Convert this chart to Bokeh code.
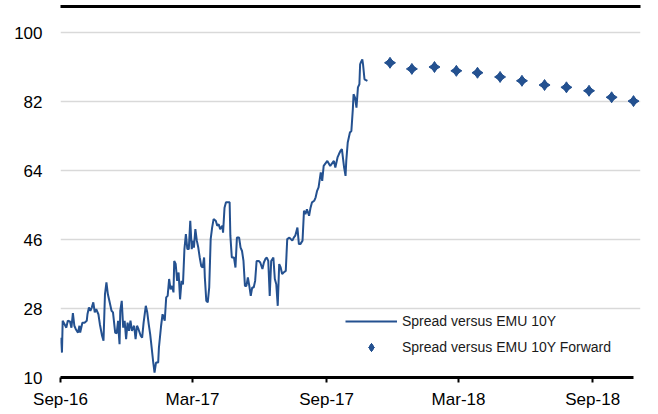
import pandas as pd
from bokeh.plotting import figure
from bokeh.models import (ColumnDataSource, Range1d, FixedTicker, DatetimeTickFormatter,
                          Legend, LegendItem, LinearAxis)
from bokeh.embed import file_html
from bokeh.resources import INLINE

# ---------------- data ----------------
base_date = "2016-09-01"
# observed spread: days after base_date and value
spot_day = [0, 2, 3, 5, 8, 10, 13, 15, 17, 19, 21, 24, 26, 27, 30, 33, 36, 37, 39, 41,
            43, 45, 47, 49, 52, 54, 57, 59, 61, 63, 65, 67, 70, 72, 75, 77, 79, 80, 81, 82,
            84, 86, 88, 90, 92, 94, 96, 98, 101, 103, 105, 107, 110, 112, 114, 117, 119, 121, 123, 124,
            127, 129, 131, 134, 135, 138, 140, 143, 145, 147, 149, 151, 153, 155, 156, 158, 160, 162, 164, 166,
            168, 170, 172, 174, 176, 178, 180, 182, 183, 185, 187, 189, 191, 193, 195, 197, 198, 200, 202, 204,
            206, 208, 210, 213, 215, 217, 219, 222, 223, 225, 227, 230, 232, 233, 235, 238, 240, 242, 245, 247,
            249, 251, 253, 255, 257, 259, 261, 263, 265, 267, 269, 272, 274, 277, 279, 281, 283, 285, 287, 289,
            292, 294, 296, 298, 300, 302, 304, 306, 309, 311, 314, 316, 318, 320, 322, 325, 327, 329, 332, 334,
            336, 338, 341, 343, 345, 348, 350, 352, 354, 357, 359, 361, 366, 370, 375, 377, 380, 382, 384, 386,
            389, 391, 392, 394, 397, 399, 401, 402, 404, 406, 408, 410, 411, 412, 414, 415, 417, 421]
spot_value = [20.4, 16.5, 24.8, 24.1, 23.0, 24.8, 24.6, 23.0, 26.8, 23.5, 22.6, 21.7, 23.5, 21.7, 24.3, 24.3, 24.8, 26.5, 28.3, 27.4,
              28.3, 29.6, 27.0, 27.8, 26.5, 23.9, 20.9, 19.6, 31.7, 34.8, 31.7, 30.0, 27.4, 27.0, 21.7, 21.5, 24.8, 21.3, 18.7, 27.4,
              30.0, 23.0, 24.8, 20.0, 24.3, 22.2, 24.8, 22.2, 23.5, 20.0, 23.5, 22.6, 20.9, 20.4, 24.3, 28.7, 27.0, 23.9, 21.3, 19.6,
              14.3, 11.3, 13.9, 13.9, 17.8, 23.5, 26.5, 24.8, 30.9, 31.3, 35.7, 33.0, 33.9, 32.2, 40.4, 39.6, 35.2, 37.4, 30.4, 35.2,
              34.3, 43.5, 47.4, 43.5, 43.5, 50.9, 43.5, 45.7, 43.9, 48.7, 45.7, 43.9, 41.3, 39.1, 38.7, 41.3, 36.1, 30.0, 29.6, 33.5,
              46.1, 49.1, 51.3, 50.9, 49.6, 50.0, 48.7, 49.6, 47.8, 54.3, 55.7, 55.7, 55.7, 47.0, 41.3, 41.3, 38.7, 46.5, 46.5, 43.9,
              43.0, 40.4, 33.9, 33.9, 36.1, 33.9, 31.3, 33.5, 33.5, 35.2, 40.4, 40.4, 40.0, 38.3, 40.0, 40.9, 41.3, 40.4, 31.3, 40.4,
              41.3, 35.7, 34.3, 28.7, 39.6, 38.7, 37.0, 37.4, 37.8, 46.1, 46.5, 46.1, 45.7, 46.5, 47.0, 49.1, 44.8, 44.8, 45.7, 53.5,
              52.6, 53.9, 52.2, 54.3, 55.7, 56.1, 57.0, 58.7, 59.6, 63.5, 61.3, 65.2, 66.5, 65.2, 66.5, 64.8, 67.4, 68.3, 69.1, 69.6,
              64.8, 62.6, 66.5, 71.3, 73.9, 74.3, 80.0, 83.9, 83.0, 80.4, 85.7, 86.5, 91.7, 92.2, 93.0, 91.7, 87.8, 87.4]

fwd_date = ["2017-11-27", "2017-12-27", "2018-01-27", "2018-02-26", "2018-03-27", "2018-04-27",
            "2018-05-27", "2018-06-27", "2018-07-27", "2018-08-27", "2018-09-27", "2018-10-27"]
fwd_value = [92.1, 90.5, 91.0, 90.0, 89.5, 88.4, 87.4, 86.3, 85.7, 84.8, 83.1, 82.1]

series_names = ["Spread versus EMU 10Y", "Spread versus EMU 10Y Forward"]
y_ticks = [10, 28, 46, 64, 82, 100]
x_tick_dates = ["2016-09-01", "2017-03-01", "2017-09-01", "2018-03-01", "2018-09-01"]

# ---------------- build ----------------
COLOR = "#245190"
FONT = "Liberation Sans"

base = pd.Timestamp(base_date)
spot_src = ColumnDataSource(dict(
    x=base + pd.to_timedelta(spot_day, unit="D"),
    y=spot_value))
fwd_src = ColumnDataSource(dict(x=pd.to_datetime(fwd_date), y=fwd_value))

x_start = base
x_end = base + pd.Timedelta(days=795.6)
# frame runs from the top rule (y=6) down to the x axis (y=377); 100 sits 26px below the rule
y_top = 10 + (377 - 6) / (345.0 / 90.0)

p = figure(width=658, height=414, x_axis_type="datetime",
           x_range=Range1d(x_start, x_end), y_range=Range1d(10, y_top),
           output_backend="svg", toolbar_location=None,
           min_border_left=60, min_border_right=18, min_border_top=6, min_border_bottom=37)
p.outline_line_color = None
p.background_fill_color = "white"
p.border_fill_color = "white"

r_line = p.line("x", "y", source=spot_src, line_color=COLOR, line_width=2)
r_f1 = p.scatter("x", "y", source=fwd_src, marker="diamond", size=11,
                 fill_color=COLOR, line_color=COLOR)
r_f2 = p.scatter("x", "y", source=fwd_src, marker="diamond", size=11, angle=1.5708,
                 fill_color=COLOR, line_color=COLOR)

# y axis
p.yaxis.ticker = FixedTicker(ticks=y_ticks)
p.yaxis.axis_line_color = None
p.yaxis.major_tick_line_color = None
p.yaxis.minor_tick_line_color = None
p.yaxis.major_label_standoff = 12
p.yaxis.major_label_text_font = FONT
p.yaxis.major_label_text_font_size = "17px"
p.yaxis.major_label_text_color = "black"

# x axis
tick_ms = [pd.Timestamp(d).value / 1e6 for d in x_tick_dates]
p.xaxis.ticker = FixedTicker(ticks=tick_ms)
p.xaxis.formatter = DatetimeTickFormatter(days="%b-%y", months="%b-%y", years="%b-%y")
p.xaxis.axis_line_color = "black"
p.xaxis.axis_line_width = 3
p.xaxis.major_tick_line_color = "black"
p.xaxis.major_tick_line_width = 2
p.xaxis.major_tick_out = 5
p.xaxis.major_tick_in = 0
p.xaxis.minor_tick_line_color = None
p.xaxis.major_label_standoff = 7
p.xaxis.major_label_text_font = FONT
p.xaxis.major_label_text_font_size = "17px"
p.xaxis.major_label_text_color = "black"
p.xaxis.bounds = (x_start.value / 1e6, pd.Timestamp(fwd_date[-1]).value / 1e6)

# top rule: a tick-less axis along the top edge
top_rule = LinearAxis(ticker=FixedTicker(ticks=[]), axis_line_color="black", axis_line_width=3,
                      major_tick_line_color=None, minor_tick_line_color=None,
                      major_label_standoff=0, major_tick_out=0, major_tick_in=0)
p.add_layout(top_rule, "above")

# grids
p.xgrid.grid_line_color = None
p.ygrid.ticker = FixedTicker(ticks=y_ticks)
p.ygrid.grid_line_color = "#d9d9d9"
p.ygrid.grid_line_width = 1.5

# legend
legend = Legend(items=[LegendItem(label=series_names[0], renderers=[r_line]),
                       LegendItem(label=series_names[1], renderers=[r_f1, r_f2])],
                location=(285, 20), padding=15, spacing=6, margin=0,
                glyph_width=52, glyph_height=20, label_height=20, label_width=218,
                label_standoff=5, label_text_font=FONT, label_text_font_size="14px",
                label_text_color="#1a1a1a",
                background_fill_color="white", background_fill_alpha=1.0,
                border_line_color=None)
p.add_layout(legend)

open("out.html", "w").write(file_html(p, INLINE))
